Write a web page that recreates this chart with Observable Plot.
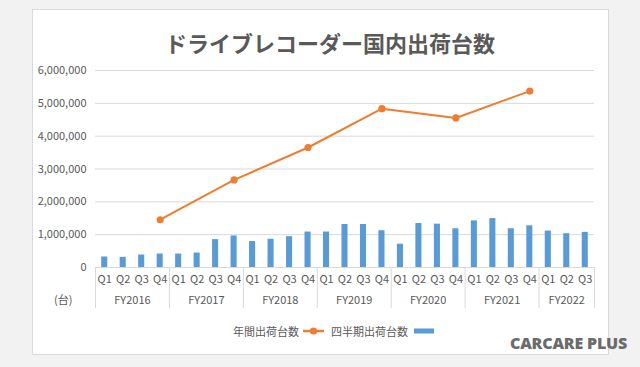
<!DOCTYPE html>
<html><head><meta charset="utf-8">
<script src="https://cdn.jsdelivr.net/npm/d3@7"></script>
<script src="https://cdn.jsdelivr.net/npm/@observablehq/plot@0.6"></script>
<style>
html,body{margin:0;padding:0;background:#f2f2f2;width:640px;height:367px;overflow:hidden;font-family:"Noto Sans CJK JP","Noto Sans",sans-serif;}
#card{position:absolute;left:32px;top:9px;width:575px;height:344px;background:#fff;border:1px solid #d9d9d9;}
#title{position:absolute;left:0;width:660px;top:27px;text-align:center;font-size:22px;font-weight:700;color:#595959;line-height:30px;}
#chart{position:absolute;left:0;top:0;}
#unit{position:absolute;left:54px;top:291px;font-size:11px;line-height:16px;color:#595959;}
#legend{position:absolute;left:233px;top:323px;font-size:11px;line-height:16px;color:#595959;display:flex;align-items:center;white-space:nowrap;}
#logo{position:absolute;left:510px;top:335px;font:800 16px/16px "Open Sans",sans-serif;color:#6b6b6b;letter-spacing:-0.2px;white-space:nowrap;}
</style></head>
<body>
<div id="card"></div>
<div id="chart"></div>
<div id="title">ドライブレコーダー国内出荷台数</div>
<div id="unit">(台)</div>
<div id="legend"><span>年間出荷台数</span><svg width="21" height="10" style="margin:0 7px 0 4px"><line x1="0" y1="5" x2="21" y2="5" stroke="#ed7d31" stroke-width="2.5"/><circle cx="10.5" cy="5" r="3.6" fill="#ed7d31"/></svg><span>四半期出荷台数</span><svg width="20" height="6" style="margin-left:6px"><rect width="20" height="5" y="0.5" fill="#5b9bd5"/></svg></div>
<div id="logo">CARCARE PLUS</div>
<script>
const fiscalYears = ["FY2016","FY2017","FY2018","FY2019","FY2020","FY2021","FY2022"];
const quartersPerYear = [4,4,4,4,4,4,3];
const quarterLabels = ["Q1","Q2","Q3","Q4"];
const quarterlyShipments = [
  320000, 310000, 380000, 410000,
  410000, 440000, 850000, 960000,
  790000, 860000, 940000, 1080000,
  1080000, 1310000, 1310000, 1120000,
  710000, 1340000, 1320000, 1180000,
  1420000, 1490000, 1180000, 1270000,
  1110000, 1030000, 1070000
];
const annualYears = ["FY2016","FY2017","FY2018","FY2019","FY2020","FY2021"];
const annualShipments = [1455000, 2667000, 3655000, 4836000, 4555000, 5373000];
const yTicks = [0, 1000000, 2000000, 3000000, 4000000, 5000000, 6000000];

// build rows
const quarterRows = [];
const yearGroups = [];
let k = 0;
fiscalYears.forEach((fy, yi) => {
  const start = k;
  for (let q = 0; q < quartersPerYear[yi]; q++) {
    quarterRows.push({i: k, fy, q: quarterLabels[q], v: quarterlyShipments[k]});
    k++;
  }
  yearGroups.push({fy, start, end: k - 1, mid: (start + k - 1) / 2});
});
const separators = yearGroups.map(g => g.start - 0.5).concat([k - 0.5]);
const annualRows = annualYears.map((fy, j) => {
  const g = yearGroups.find(d => d.fy === fy);
  return {fy, i: g.end, v: annualShipments[j]};
});

const grey = "#595959";
const chart = Plot.plot({
  width: 640,
  height: 367,
  marginLeft: 95,
  marginRight: 46,
  marginTop: 70,
  marginBottom: 100,
  style: {background: "transparent", fontFamily: '"Noto Sans CJK JP","Noto Sans",sans-serif', fontSize: "11px", color: grey},
  x: {type: "linear", domain: [-0.5, k - 0.5], axis: null},
  y: {domain: [0, 6000000], axis: null},
  marks: [
    Plot.gridY(yTicks, {stroke: "#d9d9d9", strokeOpacity: 1, strokeWidth: 1}),
    Plot.axisY(yTicks, {tickSize: 0, tickPadding: 9, tickFormat: d3.format(","), fill: grey, fontSize: 11, label: null}),
    Plot.rectY(quarterRows, {x1: d => d.i - 0.5, x2: d => d.i + 0.5, y: "v", insetLeft: 6.2, insetRight: 6.2, fill: "#5b9bd5"}),
    Plot.ruleY([0], {stroke: "#d9d9d9", strokeWidth: 1}),
    Plot.ruleX(separators, {x: d => d, y1: 0, y2: 0, insetBottom: -41, stroke: "#d9d9d9", strokeWidth: 1}),
    Plot.text(quarterRows, {x: "i", text: "q", frameAnchor: "bottom", dy: 15, fill: grey, fontSize: 11}),
    Plot.text(yearGroups, {x: "mid", text: "fy", frameAnchor: "bottom", dy: 36, fill: grey, fontSize: 11}),
    Plot.line(annualRows, {x: "i", y: "v", stroke: "#ed7d31", strokeWidth: 2}),
    Plot.dot(annualRows, {x: "i", y: "v", r: 3.6, fill: "#ed7d31", stroke: "none"})
  ]
});
document.getElementById("chart").appendChild(chart);
</script>
</body></html>
